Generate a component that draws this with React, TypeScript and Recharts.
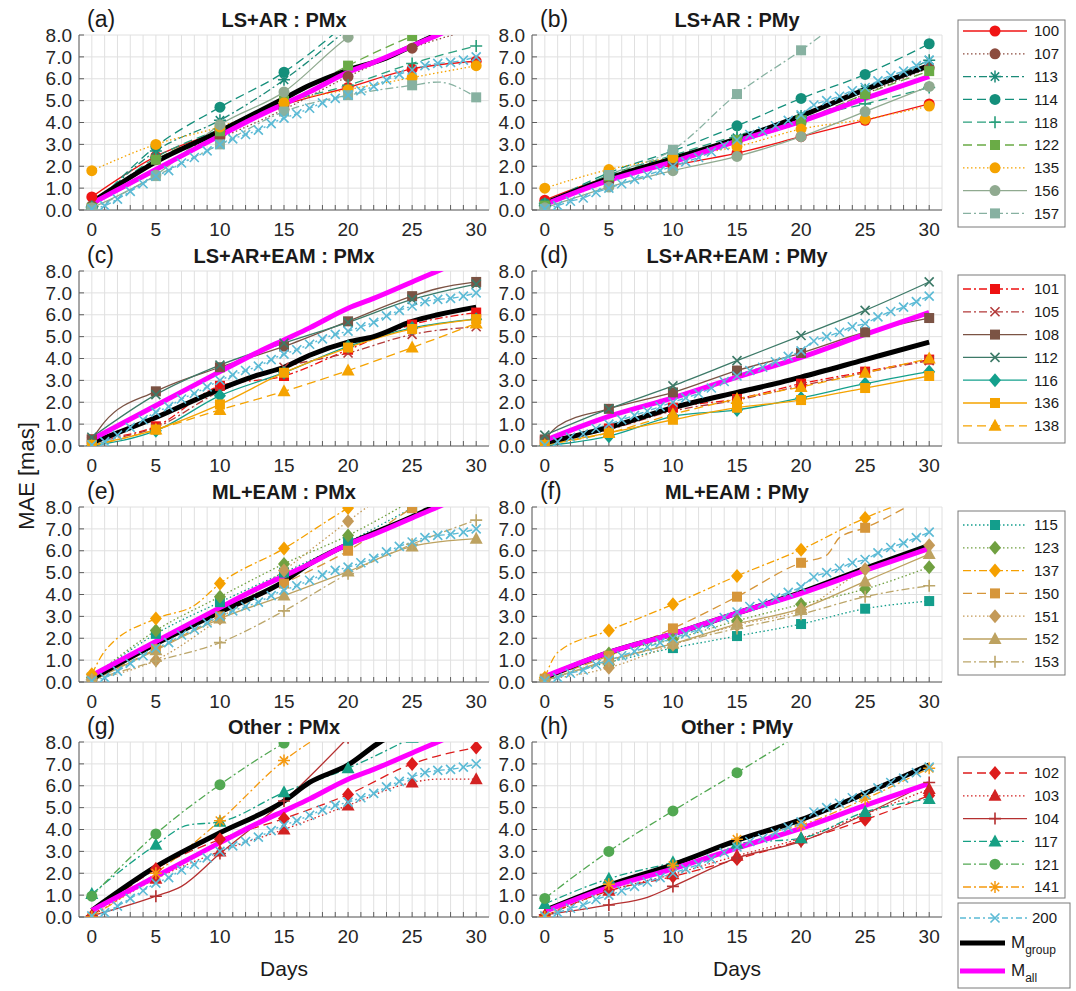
import React from 'react';
import { LineChart, Line, XAxis, YAxis, CartesianGrid } from 'recharts';

const FONT = "'Liberation Sans', Arial, Helvetica, sans-serif";
const DAYS = [0, 5, 10, 15, 20, 25, 30];
const DAY_TICKS = [0, 1, 2, 3, 4, 5, 6, 7, 8, 9, 10, 11, 12, 13, 14, 15, 16, 17, 18, 19, 20, 21, 22, 23, 24, 25, 26, 27, 28, 29, 30];
const Y_TICKS = [0, 1, 2, 3, 4, 5, 6, 7, 8];

// ---- shared reference series ----
const R200_X = [0.05, 0.2, 0.5, 0.85, 1.2, 1.55, 1.8, 2.15, 2.4, 2.7, 3.0, 3.25, 3.45, 3.65, 3.95, 4.2, 4.4, 4.65, 4.9, 5.1, 5.25, 5.45, 5.65, 5.95, 6.2, 6.4, 6.6, 6.7, 6.75, 6.85, 7.0];
const R200_Y = [0.05, 0.2, 0.4, 0.55, 0.8, 1.0, 1.2, 1.4, 1.6, 1.8, 2.0, 2.2, 2.4, 2.65, 2.95, 3.2, 3.45, 3.6, 3.85, 4.1, 4.35, 4.8, 5.0, 5.2, 5.45, 5.6, 5.9, 6.15, 6.35, 6.6, 6.85];
const MALL_X: [number, number][] = [[0, 0.3], [5, 1.85], [10, 3.4], [13, 4.3], [15, 4.85], [17, 5.4], [20, 6.3], [22, 6.75], [25, 7.5], [27, 8.0], [30, 8.8]];
const MALL_Y: [number, number][] = [[0, 0.25], [5, 1.35], [10, 2.2], [15, 3.15], [20, 4.05], [25, 5.1], [30, 6.1]];

// ---- (a) LS+AR : PMx ----
const A100 = [0.6, 2.45, 3.6, 4.8, 5.6, 6.45, 6.8];
const A107 = [0.2, 2.3, 3.3, 4.6, 6.1, 7.4, 8.3];
const A113 = [0.1, 2.7, 4.1, 5.95, 8.3, null, null];
const A114 = [0.1, 2.9, 4.7, 6.3, 8.6, null, null];
const A118 = [0.15, 2.4, 3.7, 4.9, 5.7, 6.7, 7.5];
const A122 = [0.1, 2.3, 3.6, 5.0, 6.6, 7.95, 9.0];
const A135 = [1.8, 3.0, 3.8, 4.9, 5.5, 6.05, 6.6];
const A156 = [0.1, 1.6, 3.9, 5.4, 7.9, 9.5, null];
const A157 = [0.0, 1.55, 3.0, 4.5, 5.25, 5.7, 5.15];
const A157_EXTRA: [number, number][] = [[27, 5.85]];
const MG_A: [number, number][] = [[0, 0.35], [5, 2.2], [10, 3.6], [15, 5.1], [17, 5.7], [20, 6.4], [23, 6.95], [25, 7.5], [27, 8.05], [30, 8.9]];

// ---- (b) LS+AR : PMy ----
const B100 = [0.45, 1.5, 2.05, 2.6, 3.35, 4.1, 4.85];
const B107 = [0.2, 1.3, 2.2, 3.1, 4.0, 5.3, 6.5];
const B113 = [0.2, 1.5, 2.4, 3.3, 4.3, 5.5, 6.85];
const B114 = [0.3, 1.7, 2.7, 3.85, 5.1, 6.2, 7.6];
const B118 = [0.3, 1.6, 2.5, 3.4, 4.2, 4.85, 5.6];
const B122 = [0.2, 1.55, 2.4, 3.2, 4.1, 5.3, 6.35];
const B135 = [1.0, 1.85, 2.4, 2.9, 3.7, 4.15, 4.75];
const B156 = [0.1, 1.05, 1.8, 2.45, 3.35, 4.5, 5.65];
const B157 = [0.05, 1.6, 2.75, 5.3, 7.3, 9.5, null];
const MG_B: [number, number][] = [[0, 0.3], [5, 1.45], [10, 2.35], [15, 3.25], [20, 4.3], [25, 5.5], [30, 6.6]];

// ---- (c) LS+AR+EAM : PMx ----
const C101 = [0.3, 0.9, 2.75, 3.2, 4.4, 5.55, 6.1];
const C105 = [0.2, 0.85, 2.5, 3.6, 4.25, 5.1, 5.45];
const C108 = [0.3, 2.5, 3.6, 4.55, 5.7, 6.85, 7.5];
const C108_EXTRA: [number, number][] = [[1, 1.1], [27, 7.2]];
const C112 = [0.4, 2.35, 3.7, 4.7, 5.65, 6.7, 7.4];
const C116 = [0.0, 0.7, 2.3, 3.35, 4.55, 5.4, 5.8];
const C136 = [0.05, 0.75, 1.9, 3.35, 4.5, 5.35, 5.8];
const C138 = [0.0, 0.75, 1.65, 2.5, 3.45, 4.5, 5.6];
const MG_C: [number, number][] = [[0, 0.15], [5, 1.3], [10, 2.6], [13, 3.25], [15, 3.6], [17, 4.15], [20, 4.75], [22, 5.0], [25, 5.7], [27, 6.0], [30, 6.35]];

// ---- (d) LS+AR+EAM : PMy ----
const D101 = [0.25, 0.8, 1.75, 2.15, 2.85, 3.4, 3.95];
const D105 = [0.2, 0.75, 1.6, 2.1, 2.75, 3.35, 3.9];
const D108 = [0.3, 1.7, 2.45, 3.45, 4.25, 5.2, 5.85];
const D108_EXTRA: [number, number][] = [[1, 0.9]];
const D112 = [0.5, 1.7, 2.75, 3.9, 5.05, 6.2, 7.5];
const D116 = [0.0, 0.45, 1.35, 1.65, 2.2, 2.85, 3.4];
const D136 = [0.05, 0.6, 1.2, 1.75, 2.1, 2.65, 3.2];
const D138 = [0.05, 0.6, 1.45, 2.15, 2.7, 3.35, 4.0];
const MG_D: [number, number][] = [[0, 0.15], [5, 0.85], [10, 1.75], [15, 2.45], [18, 2.85], [20, 3.15], [25, 3.95], [30, 4.75]];

// ---- (e) ML+EAM : PMx ----
const E115 = [0.2, 2.2, 3.65, 5.0, 6.4, 7.95, 9.5];
const E123 = [0.2, 2.35, 3.9, 5.4, 6.7, 8.3, null];
const E137 = [0.35, 2.9, 4.5, 6.1, 7.95, 9.5, null];
const E137_EXTRA: [number, number][] = [[1, 1.4], [8, 3.5]];
const E150 = [0.1, 1.5, 3.0, 4.5, 6.0, 7.95, 9.5];
const E151 = [0.1, 1.0, 2.9, 5.1, 7.35, 9.5, null];
const E152 = [0.05, 1.45, 2.9, 3.95, 5.05, 6.2, 6.55];
const E153 = [0.1, 0.95, 1.8, 3.25, 4.95, 6.3, 7.4];
const MG_E: [number, number][] = [[0, 0.15], [5, 1.75], [10, 3.2], [15, 4.6], [17, 5.4], [20, 6.3], [25, 7.55], [27, 8.1], [30, 8.9]];

// ---- (f) ML+EAM : PMy ----
const F115 = [0.1, 0.9, 1.55, 2.1, 2.65, 3.35, 3.7];
const F123 = [0.1, 1.3, 1.95, 2.8, 3.55, 4.25, 5.25];
const F137 = [0.2, 2.35, 3.55, 4.85, 6.05, 7.5, 8.6];
const F137_EXTRA: [number, number][] = [[1, 1.35]];
const F150 = [0.15, 1.2, 2.45, 3.9, 5.45, 7.05, 8.6];
const F150_EXTRA: [number, number][] = [[22, 5.8], [23, 6.6]];
const F151 = [0.1, 0.65, 1.7, 2.6, 3.3, 5.15, 6.25];
const F152 = [0.05, 1.0, 1.75, 2.65, 3.35, 4.6, 5.85];
const F153 = [0.1, 0.95, 1.75, 2.45, 3.1, 3.9, 4.4];
const MG_F: [number, number][] = [[0, 0.2], [5, 1.35], [10, 2.2], [15, 3.15], [20, 4.1], [25, 5.2], [30, 6.25]];

// ---- (g) Other : PMx ----
const G102 = [0.05, 2.2, 3.55, 4.5, 5.6, 7.0, 7.75];
const G103 = [0.05, 1.75, 3.0, 4.0, 5.1, 6.15, 6.3];
const G103_EXTRA: [number, number][] = [[27, 6.3]];
const G104 = [0.05, 0.95, 2.9, 5.3, 8.2, null, null];
const G104_EXTRA: [number, number][] = [[7, 1.4]];
const G117 = [1.05, 3.3, 4.35, 5.7, 6.8, 8.2, null];
const G117_EXTRA: [number, number][] = [[7.5, 4.2]];
const G121 = [0.95, 3.8, 6.05, 7.95, 9.5, null, null];
const G141 = [0.0, 2.0, 4.4, 7.15, 9.0, null, null];
const MG_G: [number, number][] = [[0, 0.3], [5, 2.3], [10, 3.85], [15, 5.3], [17, 6.15], [20, 6.95], [22.5, 8.0], [25, 8.7]];

// ---- (h) Other : PMy ----
const H102 = [0.05, 1.2, 1.85, 2.65, 3.5, 4.45, 5.55];
const H103 = [0.05, 1.2, 1.95, 2.8, 3.6, 4.7, 5.85];
const H104 = [0.1, 0.55, 1.4, 2.7, 3.45, 4.7, 6.15];
const H104_EXTRA: [number, number][] = [[8, 0.9]];
const H117 = [0.6, 1.75, 2.5, 3.35, 3.6, 4.8, 5.4];
const H121 = [0.85, 3.0, 4.85, 6.6, 8.4, null, null];
const H141 = [0.0, 1.5, 2.35, 3.55, 4.2, 5.4, 6.8];
const MG_H: [number, number][] = [[0, 0.3], [5, 1.45], [10, 2.4], [15, 3.5], [20, 4.45], [25, 5.65], [30, 6.95]];

// ---- legend groups ----
const LEG1 = ['100', '107', '113', '114', '118', '122', '135', '156', '157'];
const LEG2 = ['101', '105', '108', '112', '116', '136', '138'];
const LEG3 = ['115', '123', '137', '150', '151', '152', '153'];
const LEG4 = ['102', '103', '104', '117', '121', '141'];

// ---- styles ----
type Shape = 'circle' | 'square' | 'diamond' | 'triangle' | 'plus' | 'x' | 'asterisk';
const DOT = '1.5 2.5';
const DASH = '9 5';
const DASHDOT = '8 3 2 3';
const STYLES: Record<string, { c: string; dash: string; m: Shape }> = {
  '100': { c: '#f01414', dash: '', m: 'circle' },
  '107': { c: '#8c4b3e', dash: DOT, m: 'circle' },
  '113': { c: '#1b8a78', dash: DASHDOT, m: 'asterisk' },
  '114': { c: '#148f7b', dash: DASH, m: 'circle' },
  '118': { c: '#2a9f7c', dash: DASH, m: 'plus' },
  '122': { c: '#6aab46', dash: DASH, m: 'square' },
  '135': { c: '#f5a300', dash: DOT, m: 'circle' },
  '156': { c: '#90aa90', dash: '', m: 'circle' },
  '157': { c: '#87b1a1', dash: DASHDOT, m: 'square' },
  '101': { c: '#ee1111', dash: DASHDOT, m: 'square' },
  '105': { c: '#b33a3a', dash: DASHDOT, m: 'x' },
  '108': { c: '#7b5344', dash: '', m: 'square' },
  '112': { c: '#3d7a68', dash: '', m: 'x' },
  '116': { c: '#13a08c', dash: '', m: 'diamond' },
  '136': { c: '#f5a300', dash: '', m: 'square' },
  '138': { c: '#f5a300', dash: DASH, m: 'triangle' },
  '115': { c: '#139e8c', dash: DOT, m: 'square' },
  '123': { c: '#70a040', dash: DOT, m: 'diamond' },
  '137': { c: '#f5a000', dash: DASHDOT, m: 'diamond' },
  '150': { c: '#d6963a', dash: DASH, m: 'square' },
  '151': { c: '#c49a58', dash: DOT, m: 'diamond' },
  '152': { c: '#bda260', dash: '', m: 'triangle' },
  '153': { c: '#bca66a', dash: DASHDOT, m: 'plus' },
  '102': { c: '#dd1c1c', dash: DASH, m: 'diamond' },
  '103': { c: '#d22222', dash: DOT, m: 'triangle' },
  '104': { c: '#b53030', dash: '', m: 'plus' },
  '117': { c: '#16a084', dash: DASHDOT, m: 'triangle' },
  '121': { c: '#52a852', dash: DASHDOT, m: 'circle' },
  '141': { c: '#f59a10', dash: DASHDOT, m: 'asterisk' },
};
const C200 = '#5bbad5';

type SeriesDef = { id: string; v: (number | null)[]; extra?: [number, number][] };
type PanelDef = {
  label: string; title: string; col: number; row: number;
  series: SeriesDef[]; mg: [number, number][]; mall: [number, number][]; r200: number[];
};

const PANELS: PanelDef[] = [
  { label: '(a)', title: 'LS+AR : PMx', col: 0, row: 0, mg: MG_A, mall: MALL_X, r200: R200_X,
    series: [{ id: '100', v: A100 }, { id: '107', v: A107 }, { id: '113', v: A113 }, { id: '114', v: A114 }, { id: '118', v: A118 }, { id: '122', v: A122 }, { id: '135', v: A135 }, { id: '156', v: A156 }, { id: '157', v: A157, extra: A157_EXTRA }] },
  { label: '(b)', title: 'LS+AR : PMy', col: 1, row: 0, mg: MG_B, mall: MALL_Y, r200: R200_Y,
    series: [{ id: '100', v: B100 }, { id: '107', v: B107 }, { id: '113', v: B113 }, { id: '114', v: B114 }, { id: '118', v: B118 }, { id: '122', v: B122 }, { id: '135', v: B135 }, { id: '156', v: B156 }, { id: '157', v: B157 }] },
  { label: '(c)', title: 'LS+AR+EAM : PMx', col: 0, row: 1, mg: MG_C, mall: MALL_X, r200: R200_X,
    series: [{ id: '101', v: C101 }, { id: '105', v: C105 }, { id: '108', v: C108, extra: C108_EXTRA }, { id: '112', v: C112 }, { id: '116', v: C116 }, { id: '136', v: C136 }, { id: '138', v: C138 }] },
  { label: '(d)', title: 'LS+AR+EAM : PMy', col: 1, row: 1, mg: MG_D, mall: MALL_Y, r200: R200_Y,
    series: [{ id: '101', v: D101 }, { id: '105', v: D105 }, { id: '108', v: D108, extra: D108_EXTRA }, { id: '112', v: D112 }, { id: '116', v: D116 }, { id: '136', v: D136 }, { id: '138', v: D138 }] },
  { label: '(e)', title: 'ML+EAM : PMx', col: 0, row: 2, mg: MG_E, mall: MALL_X, r200: R200_X,
    series: [{ id: '115', v: E115 }, { id: '123', v: E123 }, { id: '137', v: E137, extra: E137_EXTRA }, { id: '150', v: E150 }, { id: '151', v: E151 }, { id: '152', v: E152 }, { id: '153', v: E153 }] },
  { label: '(f)', title: 'ML+EAM : PMy', col: 1, row: 2, mg: MG_F, mall: MALL_Y, r200: R200_Y,
    series: [{ id: '115', v: F115 }, { id: '123', v: F123 }, { id: '137', v: F137, extra: F137_EXTRA }, { id: '150', v: F150, extra: F150_EXTRA }, { id: '151', v: F151 }, { id: '152', v: F152 }, { id: '153', v: F153 }] },
  { label: '(g)', title: 'Other : PMx', col: 0, row: 3, mg: MG_G, mall: MALL_X, r200: R200_X,
    series: [{ id: '102', v: G102 }, { id: '103', v: G103, extra: G103_EXTRA }, { id: '104', v: G104, extra: G104_EXTRA }, { id: '117', v: G117, extra: G117_EXTRA }, { id: '121', v: G121 }, { id: '141', v: G141 }] },
  { label: '(h)', title: 'Other : PMy', col: 1, row: 3, mg: MG_H, mall: MALL_Y, r200: R200_Y,
    series: [{ id: '102', v: H102 }, { id: '103', v: H103 }, { id: '104', v: H104, extra: H104_EXTRA }, { id: '117', v: H117 }, { id: '121', v: H121 }, { id: '141', v: H141 }] },
];

// ---- layout ----
const PL = [79, 532];
const PT = [35, 271, 507, 742];
const PW = 410;
const PH = 175;

function toPts(vals: (number | null)[], extra?: [number, number][]) {
  const pts: { d: number; v: number }[] = [];
  DAYS.forEach((d, i) => { if (vals[i] != null) pts.push({ d, v: vals[i] as number }); });
  (extra || []).forEach(([d, v]) => pts.push({ d, v }));
  pts.sort((a, b) => a.d - b.d);
  return pts;
}
const pairPts = (arr: [number, number][]) => arr.map(([d, v]) => ({ d, v }));
const dailyPts = (arr: number[]) => arr.map((v, i) => ({ d: DAY_TICKS[i], v }));

function marker(shape: Shape, x: number, y: number, c: string) {
  switch (shape) {
    case 'circle':
      return <circle cx={x} cy={y} r={5.5} fill={c} />;
    case 'square':
      return <rect x={x - 5} y={y - 5} width={10} height={10} fill={c} />;
    case 'diamond':
      return <polygon points={`${x},${y - 7} ${x + 6},${y} ${x},${y + 7} ${x - 6},${y}`} fill={c} />;
    case 'triangle':
      return <polygon points={`${x},${y - 7} ${x + 6.5},${y + 5} ${x - 6.5},${y + 5}`} fill={c} />;
    case 'plus':
      return <path d={`M${x - 6},${y}H${x + 6}M${x},${y - 6}V${y + 6}`} stroke={c} strokeWidth={1.6} fill="none" />;
    case 'x':
      return <path d={`M${x - 4.5},${y - 4.5}L${x + 4.5},${y + 4.5}M${x - 4.5},${y + 4.5}L${x + 4.5},${y - 4.5}`} stroke={c} strokeWidth={1.6} fill="none" />;
    case 'asterisk':
      return <path d={`M${x - 6},${y}H${x + 6}M${x},${y - 6}V${y + 6}M${x - 4.2},${y - 4.2}L${x + 4.2},${y + 4.2}M${x - 4.2},${y + 4.2}L${x + 4.2},${y - 4.2}`} stroke={c} strokeWidth={1.5} fill="none" />;
  }
  return null;
}

const makeDot = (shape: Shape, color: string, every: boolean) => (props: any) => {
  const { cx, cy, payload, index } = props;
  const k = `dot-${index}`;
  if (cx == null || cy == null || Number.isNaN(cy) || !payload || (!every && payload.d % 5 !== 0)) return <g key={k} />;
  return <g key={k}>{marker(shape, cx, cy, color)}</g>;
};

const AXIS_COLOR = '#5e5e5e';
const TICK_STYLE = { fill: '#262626', fontSize: 19, fontFamily: FONT };

function Panel({ p }: { p: PanelDef }) {
  const left = PL[p.col] - 70;
  const top = PT[p.row] - 30;
  return (
    <div style={{ position: 'absolute', left, top }}>
      <LineChart width={70 + PW + 10} height={30 + PH + 34} margin={{ top: 30, right: 10, bottom: 0, left: 0 }}>
        <CartesianGrid xAxisId="b" yAxisId="l" stroke="#e0e0e0" strokeWidth={1} />
        <XAxis xAxisId="b" type="number" dataKey="d" domain={[-1, 31]} ticks={DAY_TICKS} interval={0}
          allowDataOverflow height={34} tickSize={-5} tickMargin={18} stroke={AXIS_COLOR}
          tick={TICK_STYLE} tickFormatter={(v: number) => (v % 5 === 0 ? String(v) : '')} />
        <XAxis xAxisId="t" orientation="top" type="number" dataKey="d" domain={[-1, 31]} ticks={DAY_TICKS} interval={0}
          allowDataOverflow height={0} tickSize={-5} stroke={AXIS_COLOR} tick={TICK_STYLE} tickFormatter={() => ''} />
        <YAxis yAxisId="l" type="number" domain={[0, 8]} ticks={Y_TICKS} interval={0} allowDataOverflow
          width={70} tickSize={-5} tickMargin={12} stroke={AXIS_COLOR} tick={TICK_STYLE}
          tickFormatter={(v: number) => v.toFixed(1)} />
        <YAxis yAxisId="r" orientation="right" type="number" domain={[0, 8]} ticks={Y_TICKS} interval={0} allowDataOverflow
          width={0} tickSize={-5} stroke={AXIS_COLOR} tick={TICK_STYLE} tickFormatter={() => ''} />
        {p.series.map((s) => {
          const st = STYLES[s.id];
          return (
            <Line key={s.id} xAxisId="b" yAxisId="l" data={toPts(s.v, s.extra)} dataKey="v" type="monotoneX"
              stroke={st.c} strokeWidth={1.3} strokeDasharray={st.dash || undefined}
              dot={makeDot(st.m, st.c, false)} activeDot={false} isAnimationActive={false} />
          );
        })}
        <Line xAxisId="b" yAxisId="l" data={dailyPts(p.r200)} dataKey="v" type="monotoneX" stroke={C200}
          strokeWidth={1.4} strokeDasharray="6 3 2 3" dot={makeDot('x', C200, true)} activeDot={false}
          isAnimationActive={false} />
        <Line xAxisId="b" yAxisId="l" data={pairPts(p.mg)} dataKey="v" type="monotoneX" stroke="#000000"
          strokeWidth={5} dot={false} activeDot={false} isAnimationActive={false} />
        <Line xAxisId="b" yAxisId="l" data={pairPts(p.mall)} dataKey="v" type="monotoneX" stroke="#ff00ff"
          strokeWidth={5} dot={false} activeDot={false} isAnimationActive={false} />
      </LineChart>
    </div>
  );
}

function LegendBox({ y, h, firstY, ids }: { y: number; h: number; firstY: number; ids: string[] }) {
  return (
    <g>
      <rect x={958} y={y} width={107} height={h} fill="#ffffff" stroke="#7a7a7a" strokeWidth={1} />
      {ids.map((id, i) => {
        const yy = firstY + i * 22.8;
        const s = STYLES[id];
        return (
          <g key={id}>
            <line x1={963} x2={1027} y1={yy} y2={yy} stroke={s.c} strokeWidth={1.3} strokeDasharray={s.dash || undefined} />
            {marker(s.m, 995, yy, s.c)}
            <text x={1034} y={yy} dy="0.36em" fontSize={15} fill="#1a1a1a">{id}</text>
          </g>
        );
      })}
    </g>
  );
}

export default function App() {
  return (
    <div style={{ position: 'absolute', left: 0, top: 0, width: 1076, height: 991, background: '#ffffff', fontFamily: FONT }}>
      {PANELS.map((p) => <Panel key={p.label} p={p} />)}
      <svg width={1076} height={991} style={{ position: 'absolute', left: 0, top: 0, pointerEvents: 'none' }} fontFamily={FONT}>
        {PANELS.map((p) => (
          <g key={p.label}>
            <text x={PL[p.col] + 8} y={PT[p.row] - 8} fontSize={23} fill="#1a1a1a">{p.label}</text>
            <text x={PL[p.col] + PW / 2} y={PT[p.row] - 8} fontSize={20} fontWeight="bold" textAnchor="middle" fill="#1a1a1a">{p.title}</text>
          </g>
        ))}
        <text x={PL[0] + PW / 2} y={976} fontSize={21} textAnchor="middle" fill="#1a1a1a">Days</text>
        <text x={PL[1] + PW / 2} y={976} fontSize={21} textAnchor="middle" fill="#1a1a1a">Days</text>
        <text transform="translate(34,476) rotate(-90)" fontSize={22} textAnchor="middle" fill="#1a1a1a">MAE [mas]</text>

        <LegendBox y={20} h={207} firstY={31} ids={LEG1} />
        <LegendBox y={275} h={168} firstY={289} ids={LEG2} />
        <LegendBox y={511} h={164} firstY={525} ids={LEG3} />
        <LegendBox y={757} h={141} firstY={773} ids={LEG4} />

        <g>
          <rect x={958} y={903} width={112} height={85} fill="#ffffff" stroke="#7a7a7a" strokeWidth={1} />
          <line x1={960} x2={1029} y1={918} y2={918} stroke={C200} strokeWidth={1.3} strokeDasharray="6 3 2 3" />
          {marker('x', 995, 918, C200)}
          <text x={1032} y={918} dy="0.36em" fontSize={15} fill="#1a1a1a">200</text>
          <line x1={960} x2={1005} y1={943} y2={943} stroke="#000000" strokeWidth={5} />
          <text x={1011} y={943} dy="0.3em" fontSize={17} fill="#1a1a1a">M<tspan fontSize={12} dy={6}>group</tspan></text>
          <line x1={960} x2={1005} y1={971} y2={971} stroke="#ff00ff" strokeWidth={5} />
          <text x={1011} y={971} dy="0.3em" fontSize={17} fill="#1a1a1a">M<tspan fontSize={12} dy={6}>all</tspan></text>
        </g>
      </svg>
    </div>
  );
}
